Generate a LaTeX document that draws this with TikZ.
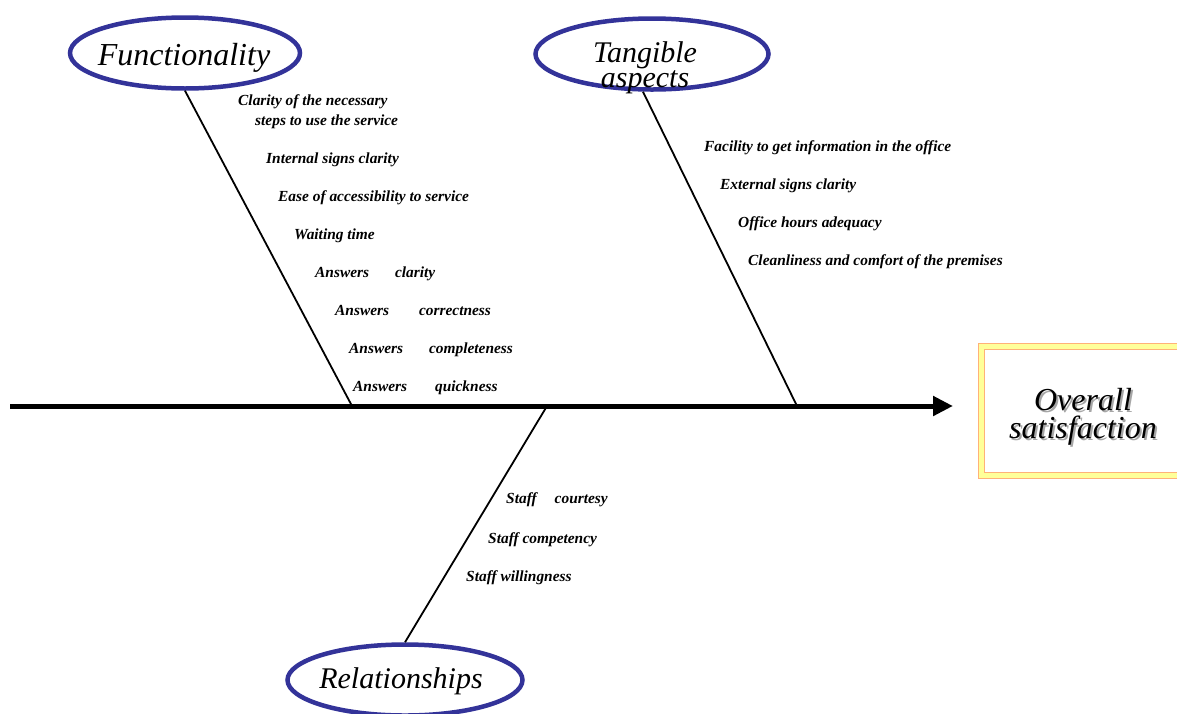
\documentclass[tikz,border=0pt]{standalone}
\usepackage{fontspec}
\setmainfont{Liberation Serif}
\usetikzlibrary{shapes.geometric,arrows.meta}
\definecolor{ovalblue}{RGB}{51,51,153}
\definecolor{framegold}{RGB}{255,255,153}
\definecolor{frameedge}{RGB}{255,178,120}
\begin{document}
\begin{tikzpicture}[x=1pt,y=-1pt,
  category/.style={ellipse,draw=ovalblue,line width=4.5pt,inner sep=0pt,
    minimum width=#1,minimum height=71pt},
  cattext/.style={font=\fontsize{30}{25}\selectfont\itshape,align=center,inner sep=0pt},
  cause/.style={anchor=base west,inner sep=0pt,font=\fontsize{15.4}{18}\selectfont\bfseries\itshape},
  bone/.style={line width=1.8pt},
  spine/.style={line width=5pt,-{Triangle[length=20pt,width=19pt]}}]
\useasboundingbox (0,0) rectangle (1177,713);

% effect box
\path[fill=framegold,draw=frameedge,line width=0.8pt] (978,343) rectangle (1182,478);
\path[fill=white,draw=frameedge,line width=0.8pt] (984,349) rectangle (1182,472);
\node[font=\fontsize{32}{28}\selectfont\itshape,align=center,text=black!35,inner sep=0pt]
  (effect-shadow) at (1085,419) {Overall\\satisfaction};
\node[font=\fontsize{32}{28}\selectfont\itshape,align=center,inner sep=0pt]
  (effect) at (1083,417) {Overall\\satisfaction};

% spine
\coordinate (tail) at (10,406);
\coordinate (head) at (953,406);
\draw[spine] (tail) -- (head);

% category ovals
\node[category=230pt] (func) at (185,53) {};
\node[cattext,font=\fontsize{32}{28}\selectfont\itshape] (func-text) at (184,58) {Functionality};
\node[category=233pt] (tang) at (652,54) {};
\node[cattext] (tang-text) at (645,68) {Tangible\\aspects};
\node[category=235pt] (rel) at (405,680) {};
\node[cattext] (rel-text) at (401,681) {Relationships};

% bones
\coordinate (func-joint) at (352,406);
\coordinate (tang-joint) at (797,406);
\coordinate (rel-joint) at (547,406);
\draw[bone] (func.south) -- (func-joint);
\draw[bone] ([xshift=-9pt]tang.south) -- (tang-joint);
\draw[bone] (rel.north) -- (rel-joint);

% functionality causes
\node[cause] (f1) at (238,105) {Clarity of the necessary};
\node[cause] (f2) at (255,125) {steps to use the service};
\node[cause] (f3) at (266,163) {Internal signs clarity};
\node[cause] (f4) at (278,201) {Ease of accessibility to service};
\node[cause] (f5) at (294,239) {Waiting time};
\node[cause] (f6) at (315,277) {Answers\hspace{26pt}clarity};
\node[cause] (f7) at (335,315) {Answers\hspace{30pt}correctness};
\node[cause] (f8) at (349,353) {Answers\hspace{26pt}completeness};
\node[cause] (f9) at (353,391) {Answers\hspace{28pt}quickness};

% tangible aspects causes
\node[cause] (t1) at (704,151) {Facility to get information in the office};
\node[cause] (t2) at (720,189) {External signs clarity};
\node[cause] (t3) at (738,227) {Office hours adequacy};
\node[cause] (t4) at (748,265) {Cleanliness and comfort of the premises};

% relationship causes
\node[cause] (r1) at (506,503) {Staff\hspace{18pt}courtesy};
\node[cause] (r2) at (488,543) {Staff competency};
\node[cause] (r3) at (466,581) {Staff willingness};
\end{tikzpicture}
\end{document}
